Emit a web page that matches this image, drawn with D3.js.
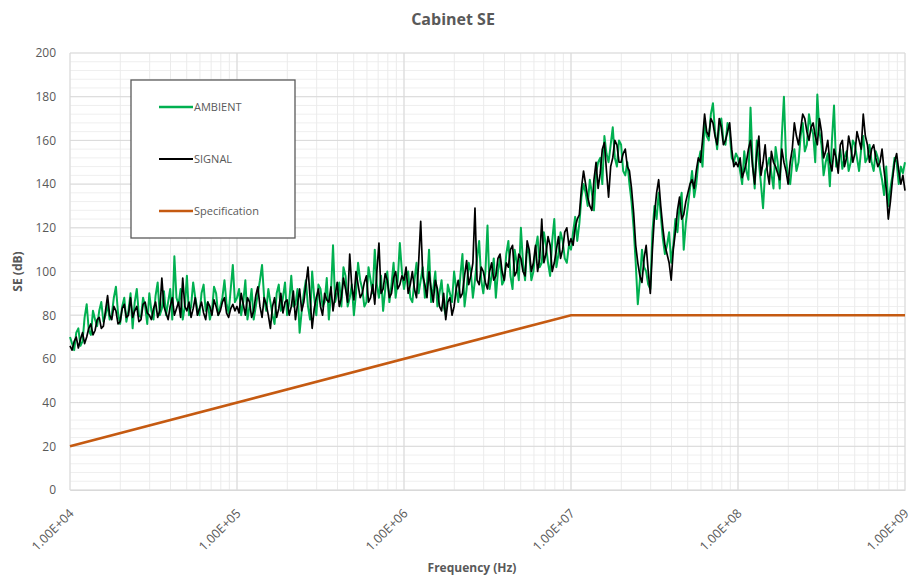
<!DOCTYPE html>
<html>
<head>
<meta charset="utf-8">
<script src="https://cdn.jsdelivr.net/npm/d3@7"></script>
<style>
  body { margin: 0; background: #ffffff; }
  svg { display: block; }
</style>
</head>
<body>
<svg id="Chart"></svg>
<script>

    // log10 of the frequency for each measured point (Hz)
    var freqExp = [
        4.0000,4.0125,4.0250,4.0375,4.0500,4.0625,4.0750,4.0875,4.1000,4.1125,4.1250,4.1375,4.1500,4.1625,4.1750,4.1875,4.2000,4.2125,4.2250,4.2375,
        4.2500,4.2625,4.2750,4.2875,4.3000,4.3125,4.3250,4.3375,4.3500,4.3625,4.3750,4.3875,4.4000,4.4125,4.4250,4.4375,4.4500,4.4625,4.4750,4.4875,
        4.5000,4.5125,4.5250,4.5375,4.5500,4.5625,4.5750,4.5875,4.6000,4.6125,4.6250,4.6375,4.6500,4.6625,4.6750,4.6875,4.7000,4.7125,4.7250,4.7375,
        4.7500,4.7625,4.7750,4.7875,4.8000,4.8125,4.8250,4.8375,4.8500,4.8625,4.8750,4.8875,4.9000,4.9125,4.9250,4.9375,4.9500,4.9625,4.9750,4.9875,
        5.0000,5.0125,5.0250,5.0375,5.0500,5.0625,5.0750,5.0875,5.1000,5.1125,5.1250,5.1375,5.1500,5.1625,5.1750,5.1875,5.2000,5.2125,5.2250,5.2375,
        5.2500,5.2625,5.2750,5.2875,5.3000,5.3125,5.3250,5.3375,5.3500,5.3625,5.3750,5.3875,5.4000,5.4125,5.4250,5.4375,5.4500,5.4625,5.4750,5.4875,
        5.5000,5.5125,5.5250,5.5375,5.5500,5.5625,5.5750,5.5875,5.6000,5.6125,5.6250,5.6375,5.6500,5.6625,5.6750,5.6875,5.7000,5.7125,5.7250,5.7375,
        5.7500,5.7625,5.7750,5.7875,5.8000,5.8125,5.8250,5.8375,5.8500,5.8625,5.8750,5.8875,5.9000,5.9125,5.9250,5.9375,5.9500,5.9625,5.9750,5.9875,
        6.0000,6.0125,6.0250,6.0375,6.0500,6.0625,6.0750,6.0875,6.1000,6.1125,6.1250,6.1375,6.1500,6.1625,6.1750,6.1875,6.2000,6.2125,6.2250,6.2375,
        6.2500,6.2625,6.2750,6.2875,6.3000,6.3125,6.3250,6.3375,6.3500,6.3625,6.3750,6.3875,6.4000,6.4125,6.4250,6.4375,6.4500,6.4625,6.4750,6.4875,
        6.5000,6.5125,6.5250,6.5375,6.5500,6.5625,6.5750,6.5875,6.6000,6.6125,6.6250,6.6375,6.6500,6.6625,6.6750,6.6875,6.7000,6.7125,6.7250,6.7375,
        6.7500,6.7625,6.7750,6.7875,6.8000,6.8125,6.8250,6.8375,6.8500,6.8625,6.8750,6.8875,6.9000,6.9125,6.9250,6.9375,6.9500,6.9625,6.9750,6.9875,
        7.0000,7.0125,7.0250,7.0375,7.0500,7.0625,7.0750,7.0875,7.1000,7.1125,7.1250,7.1375,7.1500,7.1625,7.1750,7.1875,7.2000,7.2125,7.2250,7.2375,
        7.2500,7.2625,7.2750,7.2875,7.3000,7.3125,7.3250,7.3375,7.3500,7.3625,7.3750,7.3875,7.4000,7.4125,7.4250,7.4375,7.4500,7.4625,7.4750,7.4875,
        7.5000,7.5125,7.5250,7.5375,7.5500,7.5625,7.5750,7.5875,7.6000,7.6125,7.6250,7.6375,7.6500,7.6625,7.6750,7.6875,7.7000,7.7125,7.7250,7.7375,
        7.7500,7.7625,7.7750,7.7875,7.8000,7.8125,7.8250,7.8375,7.8500,7.8625,7.8750,7.8875,7.9000,7.9125,7.9250,7.9375,7.9500,7.9625,7.9750,7.9875,
        8.0000,8.0125,8.0250,8.0375,8.0500,8.0625,8.0750,8.0875,8.1000,8.1125,8.1250,8.1375,8.1500,8.1625,8.1750,8.1875,8.2000,8.2125,8.2250,8.2375,
        8.2500,8.2625,8.2750,8.2875,8.3000,8.3125,8.3250,8.3375,8.3500,8.3625,8.3750,8.3875,8.4000,8.4125,8.4250,8.4375,8.4500,8.4625,8.4750,8.4875,
        8.5000,8.5125,8.5250,8.5375,8.5500,8.5625,8.5750,8.5875,8.6000,8.6125,8.6250,8.6375,8.6500,8.6625,8.6750,8.6875,8.7000,8.7125,8.7250,8.7375,
        8.7500,8.7625,8.7750,8.7875,8.8000,8.8125,8.8250,8.8375,8.8500,8.8625,8.8750,8.8875,8.9000,8.9125,8.9250,8.9375,8.9500,8.9625,8.9750,8.9875,
        9.0000
    ]

    var ambient = [
        70,67,64,72,74,66,68,79,85,73,71,82,78,75,82,86,77,80,85,78,
        80,88,93,81,76,84,88,77,82,90,74,86,92,80,79,88,84,76,90,82,
        78,89,95,80,83,91,80,86,92,78,107,88,85,92,78,84,98,80,84,95,
        88,83,80,90,94,82,86,78,82,93,90,80,84,88,96,85,81,92,103,86,
        88,92,80,86,96,78,84,92,78,84,90,96,103,88,82,92,86,80,76,90,
        94,82,88,95,80,86,98,84,85,92,72,82,90,96,84,78,100,88,80,94,
        92,84,86,97,78,90,112,86,90,95,84,102,98,84,88,94,80,90,104,96,
        92,84,86,102,96,90,110,94,88,98,82,92,100,86,94,104,88,96,113,100,
        92,98,100,88,86,96,104,90,96,102,88,94,110,86,92,100,84,90,96,84,
        80,94,90,86,100,92,86,98,108,84,92,104,100,88,96,106,114,96,90,100,
        121,92,98,106,88,100,106,94,96,108,114,98,92,110,104,96,120,104,96,112,
        108,96,100,110,116,102,104,118,112,104,98,114,124,102,108,118,114,106,104,112,
        110,118,125,114,122,134,140,136,130,142,136,128,145,150,152,140,162,154,150,158,
        166,152,148,160,158,146,144,150,140,132,120,104,85,96,110,102,100,94,92,118,
        130,124,136,126,115,108,112,118,104,112,124,118,130,136,110,122,130,138,146,134,
        140,150,155,148,168,162,160,172,177,164,156,166,170,160,158,168,164,152,150,154,
        152,146,140,155,146,142,175,150,138,160,150,140,129,146,148,152,145,138,157,150,
        138,162,180,152,143,140,150,156,146,150,162,168,155,158,172,166,163,150,181,164,
        158,144,150,154,139,160,176,148,150,156,147,152,155,146,150,160,158,152,146,156,
        162,150,152,158,150,146,155,152,147,142,135,148,130,138,144,152,150,140,148,145,
        150
    ]

    var signal = [
        66,64,68,70,65,69,72,67,70,74,76,71,73,78,79,74,75,82,89,80,
        78,84,82,76,77,83,85,79,80,88,79,82,84,77,78,85,86,81,80,78,
        83,86,79,82,97,84,81,78,84,88,80,83,86,79,97,84,82,86,79,83,
        88,80,83,86,81,78,86,84,80,87,84,80,82,86,88,81,79,83,85,82,
        84,81,90,85,80,88,86,79,82,89,93,84,79,88,85,80,74,84,88,79,
        83,90,81,86,87,80,84,91,78,85,92,82,86,94,102,88,74,83,88,92,
        84,80,90,87,86,93,82,89,95,84,88,97,92,86,108,93,87,100,94,88,
        90,95,98,86,88,94,85,100,113,90,92,99,96,88,90,97,100,92,94,98,
        96,102,90,94,100,92,88,104,123,98,94,88,100,92,86,96,92,84,82,90,
        78,86,88,80,84,92,96,88,90,98,105,94,98,104,129,96,94,102,100,95,
        92,100,104,96,98,106,108,100,96,104,102,110,112,98,100,108,106,100,98,114,
        110,100,104,112,100,106,124,104,108,116,112,100,104,110,116,106,110,118,120,112,
        115,112,120,124,126,138,146,140,134,130,128,142,150,138,145,156,159,146,134,148,
        152,160,158,150,150,154,156,148,146,138,127,112,104,98,95,106,112,100,90,110,
        126,136,142,130,120,112,108,104,96,110,118,128,134,124,126,132,136,140,142,138,
        146,152,150,160,172,164,162,170,168,162,158,170,166,158,160,164,168,156,148,150,
        148,152,143,146,150,156,160,148,140,154,162,144,150,158,146,140,155,150,148,145,
        142,156,150,146,140,150,156,168,162,158,165,172,170,164,160,166,168,162,158,170,
        164,152,155,160,150,146,156,152,145,158,160,148,152,162,157,150,154,164,160,156,
        172,162,158,150,156,158,152,148,150,156,146,138,124,132,142,150,154,146,140,144,
        137
    ]

    var specFreq = [1e4, 1e7, 1e9]
    var specValues = [20, 80, 80]

    var seriesNames = ["AMBIENT", "SIGNAL", "Specification"]
    var seriesColors = ["#00b050", "#000000", "#c55a11"]

    var yTicks = [0, 20, 40, 60, 80, 100, 120, 140, 160, 180, 200]
    var xTicks = [1e4, 1e5, 1e6, 1e7, 1e8, 1e9]
    var xTickLabels = ["1.00E+04", "1.00E+05", "1.00E+06", "1.00E+07", "1.00E+08", "1.00E+09"]

    var dimensions = {
        height: 577,
        width: 917,
        margin: {
            top: 53,
            bottom: 87,
            right: 12,
            left: 70
        }
    }

    var fontFamily = "'Open Sans', 'Liberation Sans', sans-serif"
    var textColor = "#595959"

    var data = freqExp.map((e, i) => ({ f: Math.pow(10, e), ambient: ambient[i], signal: signal[i] }))
    var spec = specFreq.map((f, i) => ({ f: f, v: specValues[i] }))

    var svg = d3.select("#Chart")
                .attr("width", dimensions.width)
                .attr("height", dimensions.height)
                .style("font-family", fontFamily)

    var xScale = d3.scaleLog()
                   .domain([1e4, 1e9])
                   .range([dimensions.margin.left, dimensions.width - dimensions.margin.right])

    var yScale = d3.scaleLinear()
                   .domain([0, 200])
                   .range([dimensions.height - dimensions.margin.bottom, dimensions.margin.top])

    // minor gridlines
    var grid = svg.append("g")
    grid.selectAll(".yminor")
        .data(d3.range(0, 201, 4))
        .enter()
        .append("line")
        .attr("x1", xScale.range()[0])
        .attr("x2", xScale.range()[1])
        .attr("y1", d => yScale(d))
        .attr("y2", d => yScale(d))
        .attr("stroke", "#efefef")
        .attr("stroke-width", 1)

    grid.selectAll(".xminor")
        .data(xScale.ticks())
        .enter()
        .append("line")
        .attr("x1", d => xScale(d))
        .attr("x2", d => xScale(d))
        .attr("y1", yScale.range()[0])
        .attr("y2", yScale.range()[1])
        .attr("stroke", "#ebebeb")
        .attr("stroke-width", 1)

    // major gridlines
    grid.selectAll(".ymajor")
        .data(yTicks)
        .enter()
        .append("line")
        .attr("x1", xScale.range()[0])
        .attr("x2", xScale.range()[1])
        .attr("y1", d => yScale(d))
        .attr("y2", d => yScale(d))
        .attr("stroke", "#d9d9d9")
        .attr("stroke-width", 1)

    grid.selectAll(".xmajor")
        .data(xTicks)
        .enter()
        .append("line")
        .attr("x1", d => xScale(d))
        .attr("x2", d => xScale(d))
        .attr("y1", yScale.range()[0])
        .attr("y2", yScale.range()[1])
        .attr("stroke", "#d9d9d9")
        .attr("stroke-width", 1)

    // axes
    var yAxisGen = d3.axisLeft(yScale).tickValues(yTicks).tickSize(0).tickPadding(14)
    var yAxis = svg.append("g")
                   .attr("transform", `translate(${dimensions.margin.left},0)`)
                   .call(yAxisGen)
    yAxis.select(".domain").remove()
    yAxis.selectAll("text")
         .attr("fill", textColor)
         .style("font-size", "12px")
         .style("font-family", fontFamily)

    var xAxisGen = d3.axisBottom(xScale)
                     .tickValues(xTicks)
                     .tickFormat((d, i) => xTickLabels[i])
                     .tickSize(0)
    var xAxis = svg.append("g")
                   .attr("transform", `translate(0,${dimensions.height - dimensions.margin.bottom})`)
                   .call(xAxisGen)
    xAxis.select(".domain").attr("stroke", "#d9d9d9")
    xAxis.selectAll("text")
         .attr("fill", textColor)
         .style("font-size", "12.5px")
         .style("font-family", fontFamily)
         .attr("text-anchor", "end")
         .attr("dy", "0.35em")
         .attr("transform", "translate(1,21) rotate(-45)")
         .attr("y", 0)
         .attr("x", 0)

    // series lines
    var lineAmbient = d3.line().x(d => xScale(d.f)).y(d => yScale(d.ambient))
    var lineSignal = d3.line().x(d => xScale(d.f)).y(d => yScale(d.signal))
    var lineSpec = d3.line().x(d => xScale(d.f)).y(d => yScale(d.v))

    svg.append("path")
       .datum(data)
       .attr("d", lineAmbient)
       .attr("fill", "none")
       .attr("stroke", seriesColors[0])
       .attr("stroke-width", 2)
       .attr("stroke-linejoin", "round")

    svg.append("path")
       .datum(data)
       .attr("d", lineSignal)
       .attr("fill", "none")
       .attr("stroke", seriesColors[1])
       .attr("stroke-width", 1.7)
       .attr("stroke-linejoin", "round")

    svg.append("path")
       .datum(spec)
       .attr("d", lineSpec)
       .attr("fill", "none")
       .attr("stroke", seriesColors[2])
       .attr("stroke-width", 2.6)

    // legend
    var legend = svg.append("g").attr("transform", "translate(131,80)")
    legend.append("rect")
          .attr("width", 164)
          .attr("height", 158)
          .attr("fill", "#ffffff")
          .attr("stroke", "#595959")
          .attr("stroke-width", 1.3)

    var legendItems = legend.selectAll(".item")
                            .data(seriesNames)
                            .enter()
                            .append("g")
                            .attr("transform", (d, i) => `translate(28,${27 + i * 52})`)
    legendItems.append("line")
               .attr("x1", 0)
               .attr("x2", 34)
               .attr("stroke", (d, i) => seriesColors[i])
               .attr("stroke-width", (d, i) => i === 1 ? 2 : 2.6)
    legendItems.append("text")
               .attr("x", 35)
               .attr("dy", "0.35em")
               .attr("fill", textColor)
               .style("font-size", "11px")
               .text(d => d)

    // titles
    svg.append("text")
       .attr("x", 453)
       .attr("y", 25)
       .attr("text-anchor", "middle")
       .attr("fill", textColor)
       .style("font-size", "16px")
       .style("font-weight", "bold")
       .text("Cabinet SE")

    svg.append("text")
       .attr("transform", "rotate(-90)")
       .attr("x", -(dimensions.margin.top + dimensions.height - dimensions.margin.bottom) / 2)
       .attr("y", 22)
       .attr("text-anchor", "middle")
       .attr("fill", textColor)
       .style("font-size", "12px")
       .style("font-weight", "bold")
       .text("SE (dB)")

    svg.append("text")
       .attr("x", 472)
       .attr("y", 572)
       .attr("text-anchor", "middle")
       .attr("fill", textColor)
       .style("font-size", "12px")
       .style("font-weight", "bold")
       .text("Frequency (Hz)")

</script>
</body>
</html>
